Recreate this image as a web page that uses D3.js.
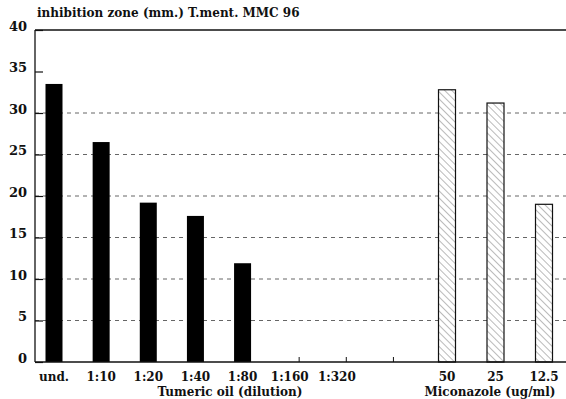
<!DOCTYPE html>
<html>
<head>
<meta charset="utf-8">
<script src="https://cdn.jsdelivr.net/npm/d3@7"></script>
<style>
  html, body { margin: 0; padding: 0; background: #fff; }
  svg { display: block; }
  text { font-family: "DejaVu Serif", "Liberation Serif", serif; font-weight: bold; fill: #111; }
</style>
</head>
<body>
<svg id="chart" width="566" height="399"></svg>
<script>
// ---- data ----
const title = "inhibition zone (mm.) T.ment. MMC 96";
const tumericCats = ["und.", "1:10", "1:20", "1:40", "1:80", "1:160", "1:320"];
const tumericValues = [33.5, 26.5, 19.2, 17.6, 11.9, null, null];
const miconazoleCats = ["50", "25", "12.5"];
const miconazoleValues = [32.8, 31.2, 19.0];
const yTicks = [0, 5, 10, 15, 20, 25, 30, 35, 40];
const gridValues = [5, 10, 15, 20, 25, 30];
const tumericTitle = "Tumeric oil (dilution)";
const miconazoleTitle = "Miconazole (ug/ml)";

// ---- layout ----
const svg = d3.select("#chart");
const mLeft = 35, mRight = 566, mTop = 30, mBottom = 362;
const y = d3.scaleLinear().domain([0, 40]).range([mBottom, mTop]);
const tSlots = tumericCats.concat(["gap"]);
const xT = d3.scalePoint().domain(tSlots).range([54, 384]);
const xM = d3.scalePoint().domain(miconazoleCats).range([447, 544]);
const barW = 17;

// hatch pattern
const defs = svg.append("defs");
const pat = defs.append("pattern").attr("id", "hatch")
  .attr("patternUnits", "userSpaceOnUse").attr("width", 5).attr("height", 5)
  .attr("patternTransform", "rotate(-45)");
pat.append("rect").attr("width", 5).attr("height", 5).attr("fill", "#fff");
pat.append("line").attr("x1", 0).attr("y1", 0).attr("x2", 0).attr("y2", 5)
  .attr("stroke", "#666").attr("stroke-width", 0.9);

// gridlines
svg.append("g").selectAll("line").data(gridValues).join("line")
  .attr("x1", mLeft).attr("x2", mRight)
  .attr("y1", d => y(d)).attr("y2", d => y(d))
  .attr("stroke", "#555").attr("stroke-width", 0.9)
  .attr("stroke-dasharray", "4,4");

// top frame line
svg.append("line").attr("x1", mLeft).attr("x2", mRight)
  .attr("y1", y(40)).attr("y2", y(40)).attr("stroke", "#111").attr("stroke-width", 1.3);

// left axis with inward ticks
const yAxis = d3.axisRight(y).tickValues(yTicks).tickSize(8).tickFormat("");
const ga = svg.append("g").attr("transform", `translate(${mLeft},0)`).call(yAxis);
ga.select(".domain").remove();
ga.selectAll("line").attr("stroke", "#111").attr("stroke-width", 1.2);
svg.append("line").attr("x1", mLeft).attr("x2", mLeft).attr("y1", y(40)).attr("y2", y(0))
  .attr("stroke", "#111").attr("stroke-width", 1.3);

// y tick labels
svg.append("g").selectAll("text").data(yTicks).join("text")
  .attr("x", 27).attr("y", d => y(d) - 3)
  .attr("text-anchor", "end").attr("dominant-baseline", "middle")
  .attr("font-size", 13).text(d => d);

// tumeric bars
const tData = tumericCats.map((c, i) => ({c, v: tumericValues[i]})).filter(d => d.v != null);
svg.append("g").selectAll("rect").data(tData).join("rect")
  .attr("x", d => xT(d.c) - barW / 2).attr("width", barW)
  .attr("y", d => y(d.v)).attr("height", d => y(0) - y(d.v))
  .attr("fill", "#000");

// miconazole bars
const mData = miconazoleCats.map((c, i) => ({c, v: miconazoleValues[i]}));
svg.append("g").selectAll("rect").data(mData).join("rect")
  .attr("x", d => xM(d.c) - barW / 2).attr("width", barW)
  .attr("y", d => y(d.v)).attr("height", d => y(0) - y(d.v))
  .attr("fill", "url(#hatch)").attr("stroke", "#111").attr("stroke-width", 1.2);

// small ticks on baseline for empty slots
const emptySlots = tSlots.filter((c, i) => i >= 5);
svg.append("g").selectAll("line").data(emptySlots).join("line")
  .attr("x1", d => xT(d) + xT.step() * 0.2).attr("x2", d => xT(d) + xT.step() * 0.2)
  .attr("y1", y(0)).attr("y2", y(0) - 5)
  .attr("stroke", "#111").attr("stroke-width", 1);

// baseline
svg.append("line").attr("x1", mLeft).attr("x2", mRight)
  .attr("y1", y(0)).attr("y2", y(0)).attr("stroke", "#111").attr("stroke-width", 1.4);

// x labels
svg.append("g").selectAll("text").data(tumericCats).join("text")
  .attr("x", d => xT(d)).attr("y", 381).attr("text-anchor", "middle")
  .attr("font-size", 12).text(d => d);
svg.append("g").selectAll("text").data(miconazoleCats).join("text")
  .attr("x", d => xM(d)).attr("y", 381).attr("text-anchor", "middle")
  .attr("font-size", 12).text(d => d);

// axis titles
svg.append("text").attr("x", 230).attr("y", 396).attr("text-anchor", "middle")
  .attr("font-size", 12).text(tumericTitle);
svg.append("text").attr("x", 490).attr("y", 396).attr("text-anchor", "middle")
  .attr("font-size", 12).text(miconazoleTitle);

// title
svg.append("text").attr("x", 37).attr("y", 17).attr("font-size", 12).text(title);
</script>
</body>
</html>
